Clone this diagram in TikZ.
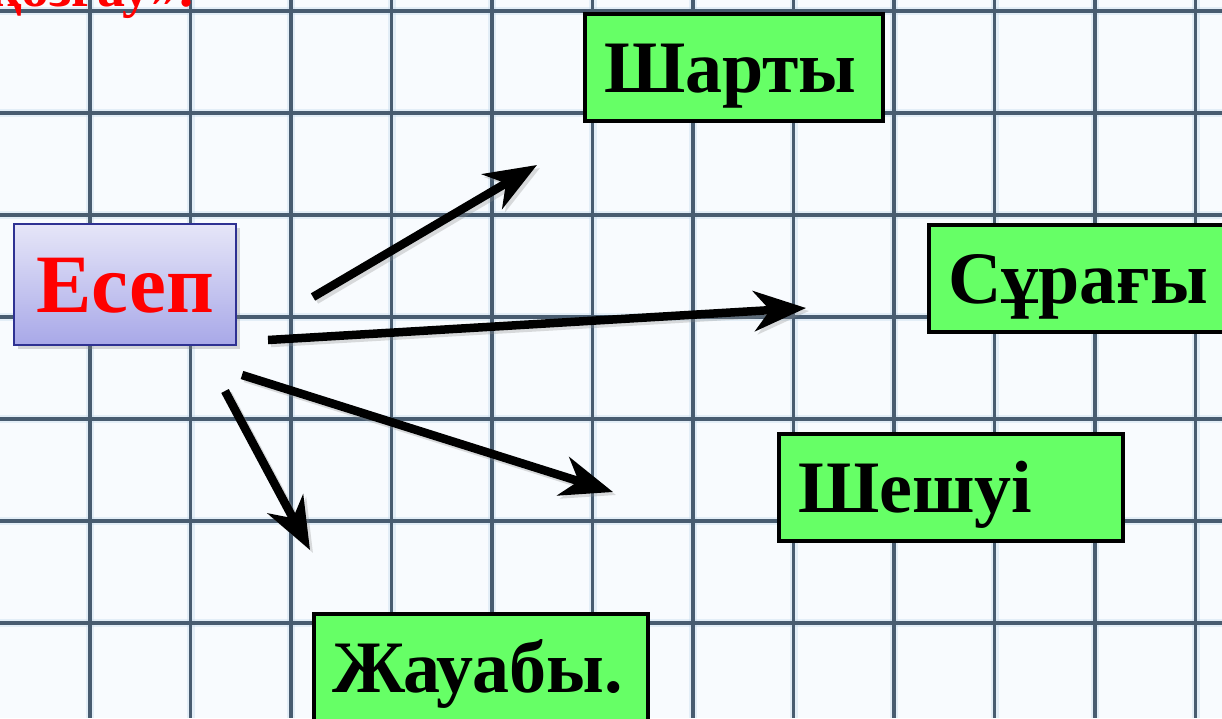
\documentclass[tikz,border=0pt]{standalone}
\usepackage{fontspec}
\setmainfont{Liberation Serif}
\usetikzlibrary{arrows.meta,shadows}
\definecolor{boxgreen}{HTML}{66FF66}
\definecolor{gridc}{RGB}{72,92,112}
\definecolor{gridhalo}{RGB}{190,215,235}
\definecolor{paper}{HTML}{F8FBFE}
\definecolor{esepborder}{HTML}{2E3192}
\definecolor{eseptop}{HTML}{E6E6F8}
\definecolor{esepbot}{HTML}{A8A8E8}
\begin{document}
\begin{tikzpicture}[x=1pt,y=-1pt,
  gridline/.style={draw=gridc,line width=3.2pt},
  gridglow/.style={draw=gridhalo,line width=8pt,opacity=0.35},
  titletext/.style={text=red,inner sep=0pt,font=\fontsize{56}{56}\selectfont\bfseries},
  esepbox/.style={draw=esepborder,line width=2.5pt,top color=eseptop,bottom color=esepbot,
    minimum width=222pt,minimum height=121pt,inner sep=0pt,text height=55pt,text depth=0pt,
    text=red,font=\fontsize{83}{83}\selectfont\bfseries,
    drop shadow={shadow xshift=4pt,shadow yshift=-4pt,opacity=0.3}},
  greenbox/.style={draw=black,line width=4pt,fill=boxgreen,inner xsep=19pt,inner ysep=0pt,
    align=left,text height=49pt,text depth=0pt,minimum height=107pt,
    font=\fontsize{74}{74}\selectfont\bfseries},
  arr/.style={draw=black,line width=8.5pt,-{Stealth[length=52pt,width=40pt,inset=16pt]}},
  arrshadow/.style={draw=black!45,opacity=0.3,line width=8.5pt,-{Stealth[length=52pt,width=40pt,inset=16pt]},
    transform canvas={xshift=3pt,yshift=-3pt}}
]
\useasboundingbox (0,0) rectangle (1222,718);
\fill[paper] (0,0) rectangle (1222,718);
\begin{scope}
\clip (0,0) rectangle (1222,718);
\foreach \i in {0,...,11} \draw[gridglow] ({90+100.5*\i},0) -- ({90+100.5*\i},718);
\foreach \j in {0,...,6} \draw[gridglow] (0,{11+102*\j}) -- (1222,{11+102*\j});
\foreach \i in {0,...,11} \draw[gridline] ({90+100.5*\i},0) -- ({90+100.5*\i},718);
\foreach \j in {0,...,6} \draw[gridline] (0,{11+102*\j}) -- (1222,{11+102*\j});
\node[titletext,anchor=base east] (title) at (194,6) {қозғау».};

\node[esepbox] (esep) at (125,284.5) {Есеп};

\node[greenbox,minimum width=298pt,text width=260pt] (sharty) at (734,67.5) {Шарты};
\node[greenbox,minimum width=309pt,text width=271pt] (suragy) at (1083.5,278.5) {Сұрағы};
\node[greenbox,minimum width=344pt,text width=306pt] (sheshui) at (951,487.5) {Шешуі};
\node[greenbox,minimum width=334pt,text width=298pt,inner xsep=18pt] (zhauaby) at (481,667.5) {Жауабы.};

\coordinate (a1s) at (313,297);
\coordinate (a1e) at (537,165);
\coordinate (a2s) at (268,340);
\coordinate (a2e) at (806,308);
\coordinate (a3s) at (242,375);
\coordinate (a3e) at (613,492);
\coordinate (a4s) at (225,391);
\coordinate (a4e) at (310,550);

\foreach \s/\e in {a1s/a1e,a2s/a2e,a3s/a3e,a4s/a4e} \draw[arrshadow] (\s) -- (\e);
\draw[arr] (a1s) -- (a1e);
\draw[arr] (a2s) -- (a2e);
\draw[arr] (a3s) -- (a3e);
\draw[arr] (a4s) -- (a4e);
\end{scope}
\end{tikzpicture}
\end{document}
